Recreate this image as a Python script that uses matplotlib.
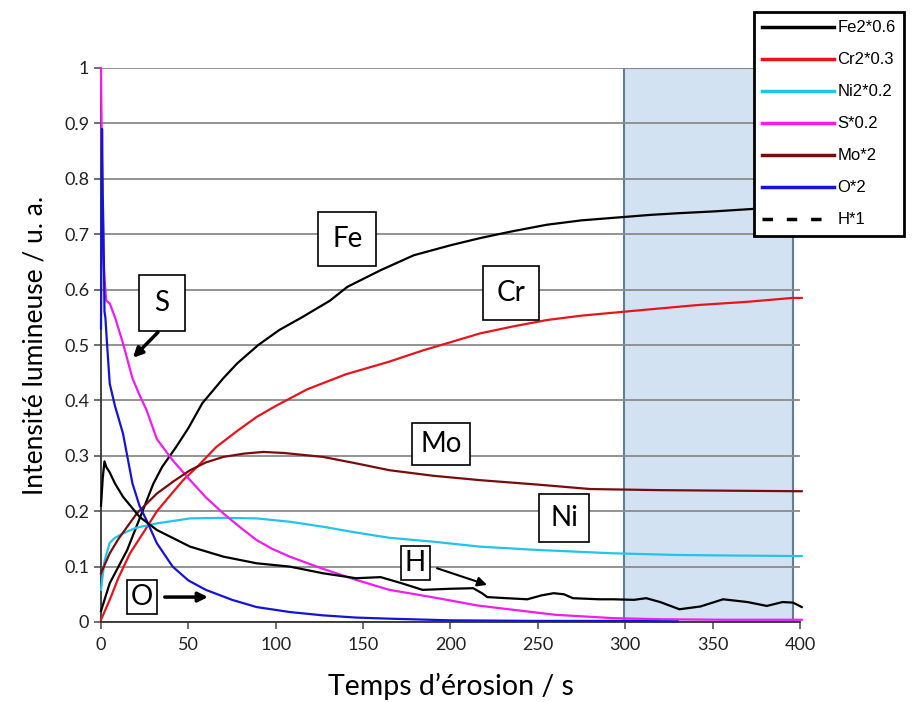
"""
Glow discharge depth profile: normalised emission intensity vs erosion time.
"""

import matplotlib
matplotlib.use("Agg")
import matplotlib.pyplot as plt
from matplotlib.lines import Line2D
from matplotlib.patches import Rectangle

# --- data (time in s, intensity in a.u.) ---
fe_t = [0, 2, 5, 10, 15, 20, 25, 30, 35, 43, 50, 58, 70, 78, 90, 102, 115,
        131, 141, 160, 179, 200, 217, 235, 255, 275, 299, 315, 331, 350, 370, 385, 396]
fe_v = [0.02, 0.04, 0.07, 0.10, 0.13, 0.17, 0.21, 0.25, 0.28, 0.316, 0.35, 0.395,
        0.44, 0.467, 0.50, 0.527, 0.55, 0.58, 0.605, 0.635, 0.662, 0.68, 0.693, 0.705,
        0.717, 0.725, 0.731, 0.735, 0.738, 0.741, 0.745, 0.748, 0.75]

cr_t = [0, 5, 10, 16.6, 25, 32, 40, 47, 55, 66, 78, 89, 100, 118, 140, 165, 184,
        200, 217, 235, 255, 275, 299, 320, 341, 370, 396, 401]
cr_v = [0.004, 0.04, 0.08, 0.124, 0.165, 0.20, 0.23, 0.256, 0.28, 0.316, 0.345, 0.37,
        0.39, 0.42, 0.447, 0.47, 0.49, 0.505, 0.521, 0.533, 0.545, 0.553, 0.56, 0.566,
        0.572, 0.578, 0.585, 0.585]

ni_t = [0, 2, 5, 8, 12.6, 20, 32, 51, 70, 89, 108, 127, 145, 165, 190, 217, 250,
        293, 330, 360, 401]
ni_v = [0.058, 0.11, 0.143, 0.152, 0.16, 0.17, 0.178, 0.187, 0.188, 0.187, 0.181,
        0.172, 0.162, 0.152, 0.145, 0.136, 0.13, 0.124, 0.121, 0.12, 0.119]

s_t = [0, 0.5, 1, 2, 3, 5, 8, 12.6, 18, 22, 26, 32, 41, 51, 60, 70, 80, 89, 98,
       108, 127, 146, 165, 180, 198, 215, 236, 260, 293, 320, 360, 401]
s_v = [1.0, 0.85, 0.68, 0.62, 0.58, 0.575, 0.55, 0.503, 0.44, 0.41, 0.383, 0.33,
       0.292, 0.256, 0.225, 0.196, 0.17, 0.148, 0.132, 0.118, 0.096, 0.076, 0.058,
       0.05, 0.04, 0.03, 0.022, 0.013, 0.007, 0.005, 0.004, 0.004]

mo_t = [0, 5, 10, 20.5, 32, 42, 51, 60, 70, 82, 93, 105, 127, 145, 165, 190, 217,
        250, 280, 320, 360, 401]
mo_v = [0.088, 0.124, 0.15, 0.196, 0.232, 0.255, 0.274, 0.288, 0.298, 0.304, 0.307,
        0.305, 0.298, 0.287, 0.274, 0.264, 0.256, 0.248, 0.24, 0.238, 0.237, 0.236]

o_t = [0, 0.6, 1.0, 1.5, 2.0, 2.5, 3.5, 5, 8, 12.6, 18, 22, 26, 32, 41, 50, 60,
       75, 89, 108, 127, 146, 165, 200, 250, 300, 330]
o_v = [0.53, 0.89, 0.77, 0.69, 0.56, 0.55, 0.50, 0.43, 0.39, 0.34, 0.25, 0.21,
       0.184, 0.142, 0.10, 0.075, 0.058, 0.04, 0.027, 0.018, 0.012, 0.008, 0.006,
       0.003, 0.002, 0.002, 0.001]

h_t = [0, 1, 2, 3, 5, 8, 12.6, 22, 32, 51, 70, 89, 108, 127, 146, 160, 172, 184,
       200, 213, 218, 221, 232, 244, 252, 259, 265, 270, 285, 293, 305, 312, 320,
       331, 343, 356, 370, 381, 390, 396, 401]
h_v = [0.21, 0.26, 0.29, 0.28, 0.27, 0.25, 0.226, 0.19, 0.166, 0.136, 0.118, 0.106,
       0.10, 0.088, 0.079, 0.081, 0.07, 0.058, 0.06, 0.061, 0.052, 0.045, 0.043,
       0.041, 0.048, 0.052, 0.05, 0.043, 0.041, 0.041, 0.04, 0.043, 0.036, 0.023,
       0.028, 0.041, 0.036, 0.029, 0.036, 0.035, 0.027]

legend_labels = ["Fe2*0.6", "Cr2*0.3", "Ni2*0.2", "S*0.2", "Mo*2", "O*2", "H*1"]
colors = ["black", "#e8141c", "#22c4ec", "#f01cf0", "#7a0c0c", "#1414d8", "black"]

# annotation labels: (text, x, y, pad)
labels = [("Fe", 141, 0.691, 0.5), ("Cr", 234.6, 0.594, 0.5), ("S", 34.9, 0.576, 0.55),
          ("Mo", 194.5, 0.321, 0.3), ("Ni", 265, 0.188, 0.4), ("H", 180, 0.106, 0.15),
          ("O", 23.5, 0.045, 0.15)]
# arrows: (x0, y0, x1, y1, lw)
arrows = [(32.6, 0.523, 18.3, 0.477, 2.5), (192.3, 0.097, 220.9, 0.067, 1.5),
          (36.5, 0.045, 61.2, 0.045, 2.5)]

plt.rcParams['font.family'] = ['Lato', 'DejaVu Sans']

fig = plt.figure(figsize=(9.2, 7.02), dpi=100)
ax = fig.add_axes([101 / 920, 1 - 622 / 702, 699 / 920, 554 / 702])

# highlighted window
ax.add_patch(Rectangle((299, 0), 97, 1, facecolor="#d3e2f2", edgecolor="#5f7e98",
                       lw=1.5, zorder=0.2))

series = [(fe_t, fe_v), (cr_t, cr_v), (ni_t, ni_v), (s_t, s_v), (mo_t, mo_v),
          (o_t, o_v), (h_t, h_v)]
for (t, v), c in zip(series, colors):
    ax.plot(t, v, color=c, lw=1.6, zorder=3, clip_on=False)

ax.set_xlim(0, 400)
ax.set_ylim(0, 1)
ax.set_xticks(range(0, 401, 50))
ax.set_yticks([i / 10 for i in range(11)])
ax.set_yticklabels(["0", "0.1", "0.2", "0.3", "0.4", "0.5", "0.6", "0.7", "0.8", "0.9", "1"])
ax.tick_params(labelsize=13, length=5, width=1.2, color="#555555", labelcolor="#222222")
ax.tick_params(axis="x", pad=6)

ax.set_axisbelow(True)
ax.grid(axis="y", color="#8a8a8a", lw=1.3)
for side in ("top", "right"):
    ax.spines[side].set_visible(False)
for side in ("left", "bottom"):
    ax.spines[side].set_linewidth(1.3)
    ax.spines[side].set_color("#333333")

ax.set_xlabel("Temps d\u2019érosion / s", fontsize=20.5, labelpad=14)
ax.set_ylabel("Intensité lumineuse / u. a.", fontsize=19, labelpad=12)

for txt, x, y, pad in labels:
    ax.text(x, y, txt, fontsize=20, ha="center", va="center", zorder=5,
            bbox=dict(boxstyle=f"square,pad={pad}", fc="white", ec="black", lw=1.2))

for x0, y0, x1, y1, lw in arrows:
    ax.annotate("", xy=(x1, y1), xytext=(x0, y0), zorder=5,
                arrowprops=dict(arrowstyle="-|>", color="black", lw=lw,
                                mutation_scale=14, shrinkA=0, shrinkB=0))

handles = [Line2D([], [], color=c, lw=2.5) for c in colors[:-1]]
handles.append(Line2D([], [], color="black", lw=2.5, ls=(0, (3, 4))))
leg = fig.legend(handles, legend_labels, loc="upper left",
                 bbox_to_anchor=(754 / 920, 1 - 12 / 702),
                 prop={"family": "Liberation Sans", "size": 12},
                 frameon=True, fancybox=False, edgecolor="black", framealpha=1,
                 handlelength=4.3, handletextpad=0.2, labelspacing=1.02,
                 borderpad=0.5, borderaxespad=0)
leg.get_frame().set_linewidth(2)

fig.savefig("out.png", dpi=100)
